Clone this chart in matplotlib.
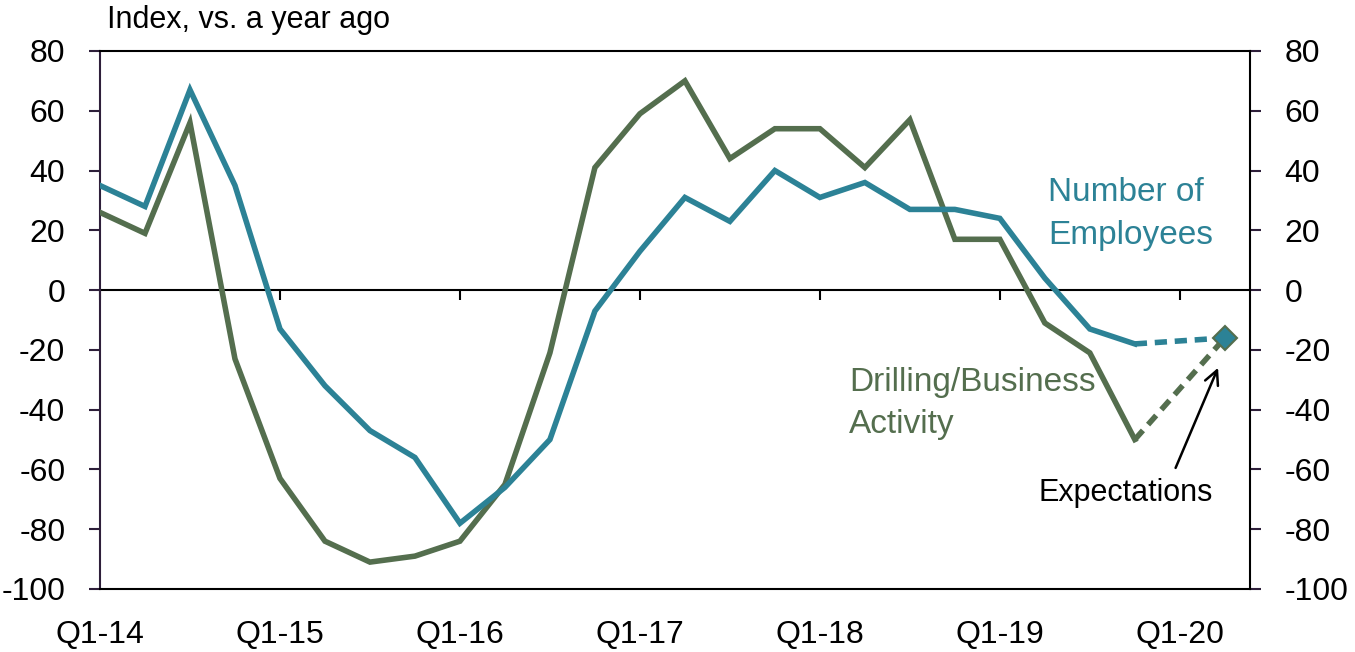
import matplotlib
matplotlib.use("Agg")
import matplotlib.pyplot as plt

plt.rcParams['font.family'] = ['Liberation Sans Narrow', 'Liberation Sans', 'DejaVu Sans']
plt.rcParams['axes.unicode_minus'] = False

# quarterly series, Q1-14 .. Q4-19, then an expectation point for Q2-20
quarters = list(range(24))
employees = [35, 28, 67, 35, -13, -32, -47, -56, -78, -66, -50, -7,
             13, 31, 23, 40, 31, 36, 27, 27, 24, 4, -13, -18]
drilling = [26, 19, 56, -23, -63, -84, -91, -89, -84, -65, -21, 41,
            59, 70, 44, 54, 54, 41, 57, 17, 17, -11, -21, -50]
expect_q = 25
employees_exp = -16
drilling_exp = -16

year_pos = [0, 4, 8, 12, 16, 20, 24]
year_labels = ["Q1-14", "Q1-15", "Q1-16", "Q1-17", "Q1-18", "Q1-19", "Q1-20"]
yticks = list(range(-100, 81, 20))

TEAL = "#2C8296"
GREEN = "#546E4E"
AXIS_PURPLE = "#2E1F3A"

fig = plt.figure(figsize=(13.55, 6.52), dpi=100)
ax = fig.add_axes([100 / 1355, 1 - 589 / 652, 1150 / 1355, 538 / 652])

lw = 4.0
ax.plot(quarters, drilling, color=GREEN, lw=lw, solid_joinstyle="miter", zorder=3)
ax.plot(quarters, employees, color=TEAL, lw=lw, solid_joinstyle="miter", zorder=4)
ax.plot([quarters[-1], expect_q], [drilling[-1], drilling_exp], color=GREEN, lw=lw,
        dashes=(2.2, 1.4), zorder=3)
ax.plot([quarters[-1], expect_q], [employees[-1], employees_exp], color=TEAL, lw=lw,
        dashes=(2.2, 1.4), zorder=4)
ax.plot([expect_q], [employees_exp], marker="D", ms=12, mfc=TEAL, mec=GREEN, mew=1.5,
        ls="none", zorder=5)

ax.set_xlim(0, 25.56)
ax.set_ylim(-100, 80)
ax.set_yticks(yticks)
ax.set_xticks(year_pos)
ax.set_xticklabels(year_labels)

ax.tick_params(axis="x", length=0, pad=22, labelsize=23)
ax.tick_params(axis="y", left=True, right=True, labelleft=True, labelright=True,
               direction="out", length=8, width=1.5, labelsize=23, pad=17,
               color=AXIS_PURPLE)
ax.spines["left"].set_color(AXIS_PURPLE)
for s in ["left", "right", "top", "bottom"]:
    ax.spines[s].set_linewidth(1.5)

# zero line with the year ticks hanging from it
zero = ax.secondary_xaxis(0, transform=ax.transData)
zero.set_xticks(year_pos)
zero.tick_params(axis="x", direction="out", length=7.5, width=1.5, labelbottom=False)
zero.spines["bottom"].set_linewidth(1.5)

ax.text(0.006, 1.03, "Index, vs. a year ago", transform=ax.transAxes,
        fontsize=22, ha="left", va="bottom")

ax.text(21.08, 25.5, "Number of\nEmployees", color=TEAL, fontsize=24,
        ha="left", va="center", linespacing=1.5)
ax.text(16.65, -38, "Drilling/Business\nActivity", color=GREEN, fontsize=24,
        ha="left", va="center", linespacing=1.45)

ax.annotate("Expectations", xy=(24.85, -26), xytext=(22.8, -68),
            fontsize=22, ha="center", va="center",
            arrowprops=dict(arrowstyle="->", color="black", lw=1.8,
                            mutation_scale=25, shrinkA=6, shrinkB=0,
                            relpos=(0.76, 1.0)))

fig.savefig("out.png", dpi=100)
